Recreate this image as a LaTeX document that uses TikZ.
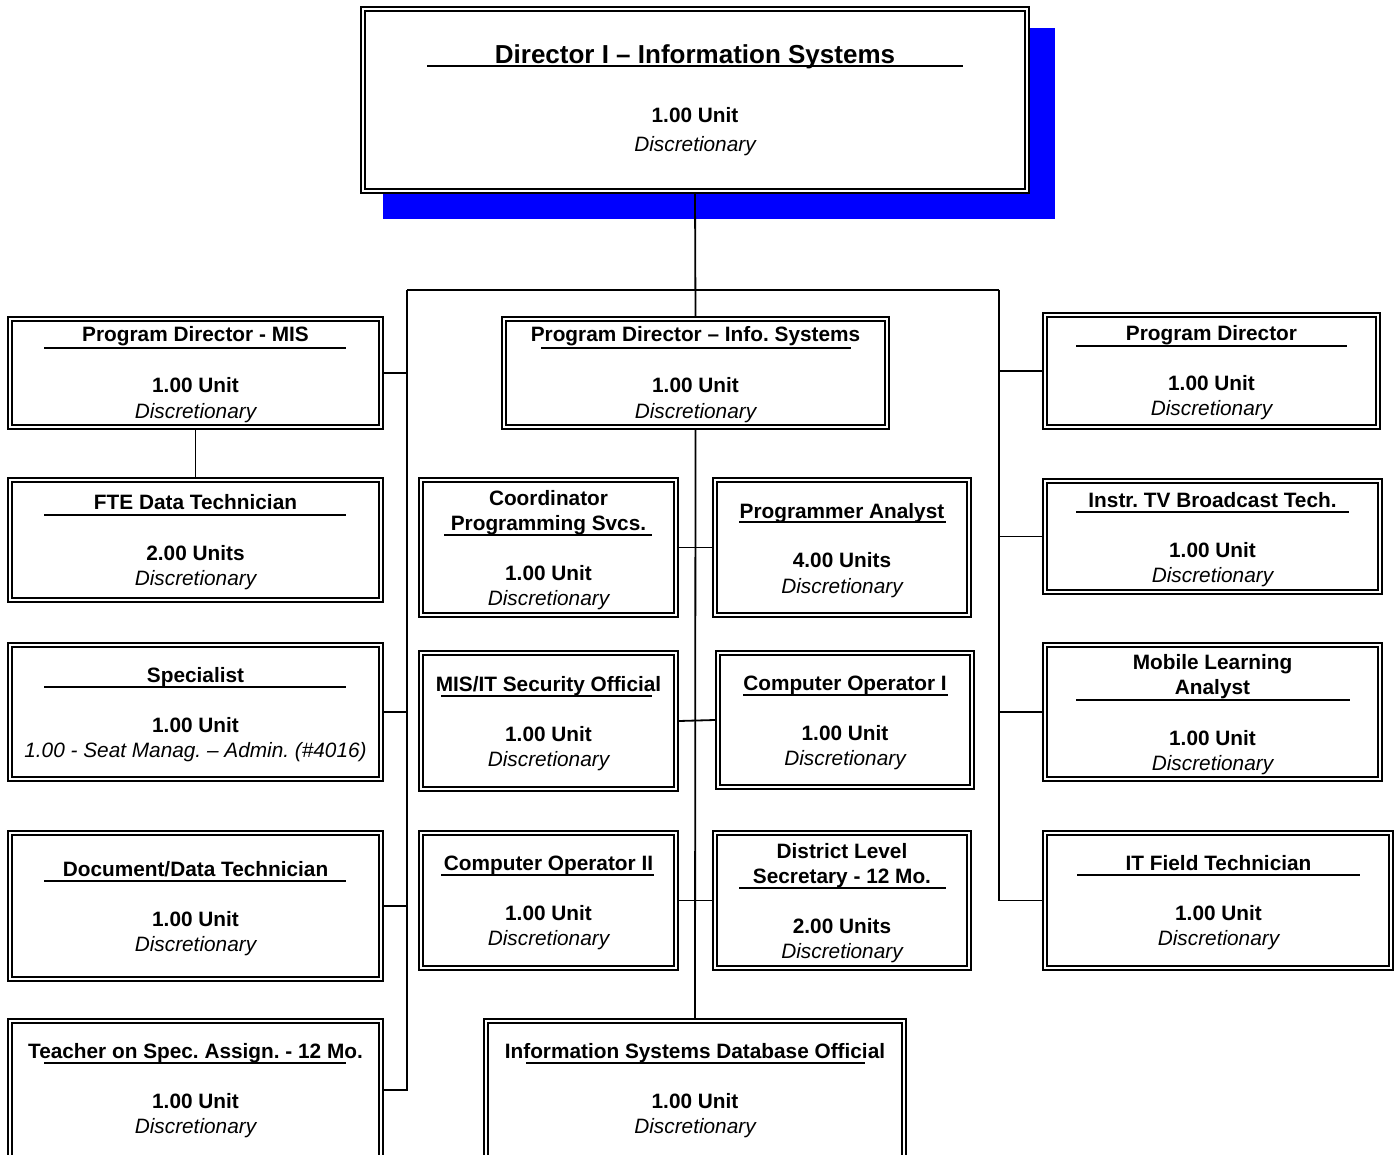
\documentclass[tikz,border=0pt]{standalone}
\usepackage{fontspec}
\setmainfont{Liberation Sans}
\frenchspacing
\definecolor{shadowblue}{RGB}{0,0,255}
\tikzset{
  obox/.style={draw=black, double=white, double distance=2.2pt, line width=1.7pt, fill=white, outer sep=2.8pt, inner sep=0pt},
  conn/.style={draw=black, line width=1.8pt},
  ulin/.style={draw=black, line width=1.6pt},
  ttl/.style={anchor=base, inner sep=0pt, font=\fontsize{20.8}{24}\selectfont\bfseries},
  bigttl/.style={anchor=base, inner sep=0pt, font=\fontsize{26}{30}\selectfont\bfseries},
  unt/.style={anchor=base, inner sep=0pt, font=\fontsize{20.8}{24}\selectfont\bfseries},
  dsc/.style={anchor=base, inner sep=0pt, font=\fontsize{20.8}{24}\selectfont\itshape},
}
\newcommand\orgbox[5]{%
  \pgfmathsetmacro\obw{#4-#2-5.6}%
  \pgfmathsetmacro\obh{#5-#3-5.6}%
  \pgfmathsetmacro\obx{(#2+#4)/2}%
  \pgfmathsetmacro\oby{(#3+#5)/2}%
  \node[obox, minimum width=\obw pt, minimum height=\obh pt] (#1) at (\obx,\oby) {};}
\newcommand\tline[3]{\draw[ulin] (#1,#3) -- (#2,#3);}
\begin{document}
\begin{tikzpicture}[x=1pt,y=-1pt]
\useasboundingbox (0,0) rectangle (1395,1155);
% shadow
\fill[shadowblue] (383,28) rectangle (1055,219);
% boxes
\orgbox{dir}{360}{6}{1030}{194}
\orgbox{mis}{7}{316}{384}{430}
\orgbox{fte}{7}{477}{384}{603}
\orgbox{spec}{7}{642}{384}{782}
\orgbox{ddt}{7}{830}{384}{982}
\orgbox{tosa}{7}{1018}{384}{1162}
\orgbox{pdis}{501}{316}{890}{430}
\orgbox{cps}{418}{477}{679}{618}
\orgbox{pa}{712}{477}{972}{618}
\orgbox{misit}{418}{650}{679}{792}
\orgbox{coa}{715}{650}{975}{790}
\orgbox{cob}{418}{830}{679}{971}
\orgbox{dls}{712}{830}{972}{971}
\orgbox{dbo}{483}{1018}{907}{1162}
\orgbox{pdr}{1042}{312}{1381}{430}
\orgbox{itv}{1042}{478}{1383}{595}
\orgbox{mla}{1042}{642}{1383}{782}
\orgbox{itf}{1042}{830}{1394}{971}
% connectors
\coordinate (busL) at (407,290);
\coordinate (busR) at (999,290);
\draw[conn] (dir.south) -- (pdis.north);
\draw[conn] (busL) -- (busR);
\draw[conn] (busL) |- (tosa.east);
\draw[conn] (mis.east) -- (mis.east -| busL);
\draw[conn] (spec.east) -- (spec.east -| busL);
\draw[conn] (ddt.east) -- (ddt.east -| busL);
\draw[conn] (busR) |- (itf.west);
\draw[conn] (pdr.west) -- (pdr.west -| busR);
\draw[conn] (itv.west) -- (itv.west -| busR);
\draw[conn] (mla.west) -- (mla.west -| busR);
\draw[conn] (mis.south) -- (fte.north);
\draw[conn] (pdis.south) -- (dbo.north);
\draw[conn] (cps.east) -- (pa.west);
\draw[conn] (misit.east) -- (coa.west);
\draw[conn] (cob.east) -- (dls.west);
% Director
\node[bigttl] (dir-t) at (695,64) {Director I – Information Systems};
\tline{427}{963}{66}
\node[unt] (dir-u) at (695,123) {1.00 Unit};
\node[dsc] (dir-d) at (695,152) {Discretionary};
% Program Director - MIS
\node[ttl] (mis-t) at (195.5,342) {Program Director - MIS};
\tline{44}{346}{348}
\node[unt] (mis-u) at (195.5,393) {1.00 Unit};
\node[dsc] (mis-d) at (195.5,418) {Discretionary};
% FTE
\node[ttl] (fte-t) at (195.5,509) {FTE Data Technician};
\tline{44}{346}{515}
\node[unt] (fte-u) at (195.5,560) {2.00 Units};
\node[dsc] (fte-d) at (195.5,585) {Discretionary};
% Specialist
\node[ttl] (spec-t) at (195.5,682) {Specialist};
\tline{44}{346}{687}
\node[unt] (spec-u) at (195.5,732) {1.00 Unit};
\node[dsc] (spec-d) at (195.5,757) {1.00 - Seat Manag. – Admin. (\#4016)};
% Document/Data Technician
\node[ttl] (ddt-t) at (195.5,876) {Document/Data Technician};
\tline{44}{346}{881}
\node[unt] (ddt-u) at (195.5,926) {1.00 Unit};
\node[dsc] (ddt-d) at (195.5,951) {Discretionary};
% Teacher
\node[ttl] (tosa-t) at (195.5,1058) {Teacher on Spec. Assign. - 12 Mo.};
\tline{44}{346}{1063}
\node[unt] (tosa-u) at (195.5,1108) {1.00 Unit};
\node[dsc] (tosa-d) at (195.5,1133) {Discretionary};
% Program Director - Info Systems
\node[ttl] (pdis-t) at (695.5,342) {Program Director – Info. Systems};
\tline{541}{851}{348}
\node[unt] (pdis-u) at (695.5,393) {1.00 Unit};
\node[dsc] (pdis-d) at (695.5,418) {Discretionary};
% Coordinator
\node[ttl] (cps-t1) at (548.5,505) {Coordinator};
\node[ttl] (cps-t2) at (548.5,530) {Programming Svcs.};
\tline{444}{652}{535}
\node[unt] (cps-u) at (548.5,580) {1.00 Unit};
\node[dsc] (cps-d) at (548.5,605) {Discretionary};
% Programmer Analyst
\node[ttl] (pa-t) at (842,518) {Programmer Analyst};
\tline{739}{946}{522}
\node[unt] (pa-u) at (842,567) {4.00 Units};
\node[dsc] (pa-d) at (842,593) {Discretionary};
% MIS/IT Security
\node[ttl] (misit-t) at (548.5,691) {MIS/IT Security Official};
\tline{441}{652}{696}
\node[unt] (misit-u) at (548.5,741) {1.00 Unit};
\node[dsc] (misit-d) at (548.5,766) {Discretionary};
% Computer Operator I
\node[ttl] (coa-t) at (845,690) {Computer Operator I};
\tline{743}{948}{695}
\node[unt] (coa-u) at (845,740) {1.00 Unit};
\node[dsc] (coa-d) at (845,765) {Discretionary};
% Computer Operator II
\node[ttl] (cob-t) at (548.5,870) {Computer Operator II};
\tline{441}{654}{875}
\node[unt] (cob-u) at (548.5,920) {1.00 Unit};
\node[dsc] (cob-d) at (548.5,945) {Discretionary};
% District Level Secretary
\node[ttl] (dls-t1) at (842,858) {District Level};
\node[ttl] (dls-t2) at (842,883) {Secretary - 12 Mo.};
\tline{739}{946}{888}
\node[unt] (dls-u) at (842,933) {2.00 Units};
\node[dsc] (dls-d) at (842,958) {Discretionary};
% Database Official
\node[ttl] (dbo-t) at (695,1058) {Information Systems Database Official};
\tline{526}{865}{1063}
\node[unt] (dbo-u) at (695,1108) {1.00 Unit};
\node[dsc] (dbo-d) at (695,1133) {Discretionary};
% Program Director (right)
\node[ttl] (pdr-t) at (1211.5,341) {Program Director};
\tline{1076}{1347}{346}
\node[unt] (pdr-u) at (1211.5,391) {1.00 Unit};
\node[dsc] (pdr-d) at (1211.5,416) {Discretionary};
% Instr TV
\node[ttl] (itv-t) at (1212.5,507) {Instr. TV Broadcast Tech.};
\tline{1076}{1349}{512}
\node[unt] (itv-u) at (1212.5,557) {1.00 Unit};
\node[dsc] (itv-d) at (1212.5,582) {Discretionary};
% Mobile Learning
\node[ttl] (mla-t1) at (1212.5,669) {Mobile Learning};
\node[ttl] (mla-t2) at (1212.5,694) {Analyst};
\tline{1076}{1350}{700}
\node[unt] (mla-u) at (1212.5,745) {1.00 Unit};
\node[dsc] (mla-d) at (1212.5,770) {Discretionary};
% IT Field Technician
\node[ttl] (itf-t) at (1218.5,870) {IT Field Technician};
\tline{1077}{1360}{875}
\node[unt] (itf-u) at (1218.5,920) {1.00 Unit};
\node[dsc] (itf-d) at (1218.5,945) {Discretionary};
\end{tikzpicture}
\end{document}
